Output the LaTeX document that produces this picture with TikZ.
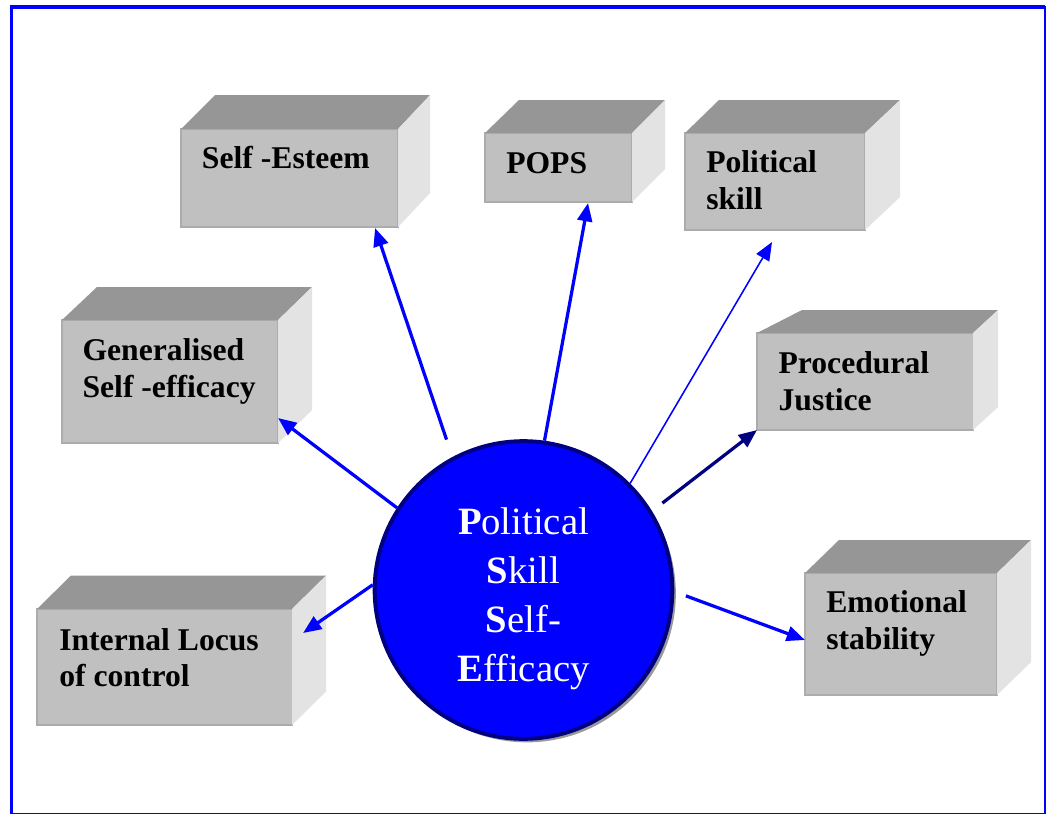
\documentclass[tikz,border=0pt]{standalone}
\usepackage{fontspec}
\setmainfont{Liberation Serif}
\usetikzlibrary{arrows.meta,calc,shadows}

\definecolor{FrontGray}{RGB}{192,192,192}
\definecolor{TopGray}{RGB}{150,150,150}
\definecolor{SideGray}{RGB}{227,227,227}
\definecolor{EdgeGray}{RGB}{172,172,172}
\definecolor{HubBlue}{RGB}{0,0,255}
\definecolor{HubNavy}{RGB}{0,0,128}

\tikzstyle{Face}=[rectangle,fill=FrontGray,draw=EdgeGray,line width=0.8pt,
  inner sep=0pt,outer sep=0pt,anchor=north west]
\tikzstyle{TopFace}=[fill=TopGray]
\tikzstyle{SideFace}=[fill=SideGray]
\tikzstyle{BoxText}=[anchor=base west,inner sep=0pt,align=left,
  font=\fontsize{22.5}{26}\selectfont\bfseries]
\tikzstyle{HubCircle}=[circle,fill=HubBlue,draw=HubNavy,line width=2.8pt,
  minimum size=7.44cm,inner sep=0pt,
  drop shadow={shadow xshift=2.5pt,shadow yshift=-2.5pt,fill=gray!80,opacity=1}]
\tikzstyle{HubText}=[white,inner sep=0pt,align=center,
  font=\fontsize{27.5}{34.9}\selectfont]
\tikzstyle{ArrowObject}=[HubBlue,line width=2.3pt,
  -{Triangle[length=13pt,width=10.5pt]}]
\tikzstyle{FrameLine}=[HubBlue]

\begin{document}
\begin{tikzpicture}[x=0.025cm, y=-0.025cm]
		\useasboundingbox (0,0) rectangle (1047,815);
		
		% Frame
		\draw[FrameLine,line width=0.8pt] (11.5,7) rectangle (1045,813.5);
		\draw[FrameLine,line width=2.6pt] (11.5,813.5) -- (11.5,7) -- (1045,7);
		
		% Self-Esteem block
		\draw(181,129) node[Face,minimum width=5.425cm,minimum height=2.45cm] (BoxEsteem) {};
		\fill[TopFace] (BoxEsteem.north west) -- ++(34,-34) -- ($(BoxEsteem.north east)+(32,-34)$) -- (BoxEsteem.north east) -- cycle;
		\fill[SideFace] (BoxEsteem.north east) -- ++(32,-34) -- ($(BoxEsteem.south east)+(32,-34)$) -- (BoxEsteem.south east) -- cycle;
		\draw(201.7,168) node[BoxText] (TxtEsteem) {Self -Esteem};
		
		% POPS block
		\draw(485,133) node[Face,minimum width=3.675cm,minimum height=1.725cm] (BoxPops) {};
		\fill[TopFace] (BoxPops.north west) -- ++(34,-33) -- ($(BoxPops.north east)+(33,-33)$) -- (BoxPops.north east) -- cycle;
		\fill[SideFace] (BoxPops.north east) -- ++(33,-33) -- ($(BoxPops.south east)+(33,-33)$) -- (BoxPops.south east) -- cycle;
		\draw(506,173.3) node[BoxText] (TxtPops) {POPS};
		
		% Political skill block (base = last line)
		\draw(685,133) node[Face,minimum width=4.5cm,minimum height=2.425cm] (BoxSkill) {};
		\fill[TopFace] (BoxSkill.north west) -- ++(34,-33) -- ($(BoxSkill.north east)+(35,-33)$) -- (BoxSkill.north east) -- cycle;
		\fill[SideFace] (BoxSkill.north east) -- ++(35,-33) -- ($(BoxSkill.south east)+(35,-33)$) -- (BoxSkill.south east) -- cycle;
		\draw(706,209.3) node[BoxText] (TxtSkill) {Political\\skill};
		
		% Generalised self-efficacy block
		\draw(62,320) node[Face,minimum width=5.4cm,minimum height=3.075cm] (BoxGeneral) {};
		\fill[TopFace] (BoxGeneral.north west) -- ++(35,-33) -- ($(BoxGeneral.north east)+(34,-33)$) -- (BoxGeneral.north east) -- cycle;
		\fill[SideFace] (BoxGeneral.north east) -- ++(34,-33) -- ($(BoxGeneral.south east)+(34,-33)$) -- (BoxGeneral.south east) -- cycle;
		\draw(82.3,397) node[BoxText] (TxtGeneral) {Generalised\\Self -efficacy};
		
		% Procedural justice block
		\draw(757,333) node[Face,minimum width=5.4cm,minimum height=2.425cm] (BoxJustice) {};
		\fill[TopFace] (BoxJustice.north west) -- ++(45,-23) -- ($(BoxJustice.north east)+(25,-23)$) -- (BoxJustice.north east) -- cycle;
		\fill[SideFace] (BoxJustice.north east) -- ++(25,-23) -- ($(BoxJustice.south east)+(25,-23)$) -- (BoxJustice.south east) -- cycle;
		\draw(778.3,410) node[BoxText] (TxtJustice) {Procedural\\Justice};
		
		% Internal locus block
		\draw(37,609) node[Face,minimum width=6.375cm,minimum height=2.9cm] (BoxLocus) {};
		\fill[TopFace] (BoxLocus.north west) -- ++(34,-33.5) -- ($(BoxLocus.north east)+(34,-33.5)$) -- (BoxLocus.north east) -- cycle;
		\fill[SideFace] (BoxLocus.north east) -- ++(34,-33.5) -- ($(BoxLocus.south east)+(34,-33.5)$) -- (BoxLocus.south east) -- cycle;
		\draw(59,686.7) node[BoxText] (TxtLocus) {Internal Locus\\of control};
		
		% Emotional stability block
		\draw(805,573) node[Face,minimum width=4.8cm,minimum height=3.05cm] (BoxStability) {};
		\fill[TopFace] (BoxStability.north west) -- ++(34,-33) -- ($(BoxStability.north east)+(34,-33)$) -- (BoxStability.north east) -- cycle;
		\fill[SideFace] (BoxStability.north east) -- ++(34,-33) -- ($(BoxStability.south east)+(34,-33)$) -- (BoxStability.south east) -- cycle;
		\draw(826,649.3) node[BoxText] (TxtStability) {Emotional\\stability};
		
		% Centre circle
		\draw(523.5,590) node[HubCircle] (Hub) {};
		\draw(523.5,599) node[HubText] (HubLabel) {\textbf{P}olitical\\\textbf{S}kill\\\textbf{S}elf-\\\textbf{E}fficacy};
		
		% Arrows out of the circle
		\draw[ArrowObject] ([shift={(-8.5,-16)}]Hub.117.6) -- ($(BoxEsteem.south east)+(-23,1)$);
		\draw[ArrowObject] (Hub.82.8) -- ($(BoxPops.south east)+(-44,1)$);
		\draw[ArrowObject,line width=1.1pt] (Hub.45.5) -- ($(BoxSkill.south)+(-3,12)$);
		\draw[ArrowObject,HubNavy] ([shift={(11,-7)}]Hub.32.5) -- (BoxJustice.south west);
		\draw[ArrowObject] (Hub.147.8) -- ($(BoxGeneral.south east)+(0,-25)$);
		\draw[ArrowObject] (Hub.178) -- ($(BoxLocus.east)+(11,-34)$);
		\draw[ArrowObject] ([shift={(11.7,0.6)}]Hub.-2.8) -- ($(BoxStability.west)+(0,6)$);
		
	\end{tikzpicture}
\end{document}
